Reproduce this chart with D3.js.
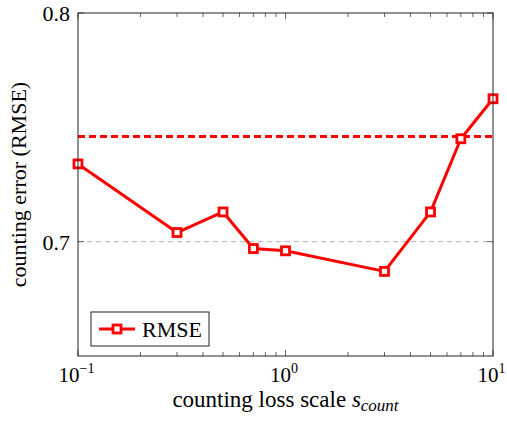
<!DOCTYPE html>
<html>
<head>
<meta charset="utf-8">
<script src="https://cdn.jsdelivr.net/npm/d3@7"></script>
<style>
  body { margin: 0; background: #fff; }
  text { font-family: "Liberation Serif", "DejaVu Serif", serif; fill: #000; }
</style>
</head>
<body>
<div id="viz"></div>
<script>

//data
let scales = [0.1, 0.3, 0.5, 0.7, 1, 3, 5, 7, 10]
let rmse = [0.734, 0.704, 0.713, 0.697, 0.696, 0.687, 0.713, 0.745, 0.7625]
let baseline = 0.746
let yTicks = [0.7, 0.8]
let xTicks = [0.1, 1, 10]
let xTickExp = ['\u22121', '0', '1']

let width = 507, height = 423
let margin = {top: 13, right: 14, bottom: 67, left: 78}

let svg = d3.select('#viz')
			.append('svg')
			.attr('width', width)
			.attr('height', height)

let x = d3.scaleLog()
			.domain([0.1, 10])
			.range([margin.left, width - margin.right])

let y = d3.scaleLinear()
			.domain([0.65, 0.8])
			.range([height - margin.bottom, margin.top])

//minor log ticks 2..9 per decade
let minorTicks = x.ticks().filter(t => !xTicks.includes(t))

//grid line at 0.7
svg.append('line')
	.attr('x1', x.range()[0])
	.attr('x2', x.range()[1])
	.attr('y1', y(0.7))
	.attr('y2', y(0.7))
	.attr('stroke', '#b3b3b3')
	.attr('stroke-width', 1)
	.attr('stroke-dasharray', '5,4')

//ticks inside the frame, bottom and top
let tickGroup = svg.append('g')
let yBottom = y.range()[0], yTop = y.range()[1]

tickGroup.selectAll('.xmajor')
	.data(xTicks)
	.enter()
	.append('path')
	.attr('d', d => `M${x(d)},${yBottom}v-6M${x(d)},${yTop}v6`)

tickGroup.selectAll('.xminor')
	.data(minorTicks)
	.enter()
	.append('path')
	.attr('d', d => `M${x(d)},${yBottom}v-4M${x(d)},${yTop}v4`)

tickGroup.selectAll('.ytick')
	.data(yTicks)
	.enter()
	.append('path')
	.attr('d', d => `M${x.range()[0]},${y(d)}h6M${x.range()[1]},${y(d)}h-6`)

tickGroup.selectAll('path')
	.attr('stroke', '#555')
	.attr('stroke-width', 0.9)
	.attr('fill', 'none')

//tick labels
svg.selectAll('.ylabel')
	.data(yTicks)
	.enter()
	.append('text')
	.attr('x', x.range()[0] - 8)
	.attr('y', d => y(d) + 8)
	.attr('text-anchor', 'end')
	.style('font-size', '22px')
	.text(d => d3.format('.1f')(d))

let xl = svg.selectAll('.xlabel')
	.data(xTicks)
	.enter()
	.append('text')
	.attr('x', d => x(d) - 1.5)
	.attr('y', yBottom + 26)
	.attr('text-anchor', 'middle')
	.style('font-size', '21px')

xl.append('tspan').text('10')
xl.append('tspan')
	.attr('dy', -9)
	.style('font-size', '14px')
	.text((d, i) => xTickExp[i])

//axis titles
let xTitle = svg.append('text')
	.attr('x', (x.range()[0] + x.range()[1]) / 2)
	.attr('y', 407)
	.attr('text-anchor', 'middle')
	.style('font-size', '23px')

xTitle.append('tspan').text('counting loss scale ')
xTitle.append('tspan').style('font-style', 'italic').text('s')
xTitle.append('tspan')
	.attr('dy', 4)
	.style('font-style', 'italic')
	.style('font-size', '17px')
	.text('count')

svg.append('text')
	.attr('transform', `translate(26, ${(yBottom + yTop) / 2}) rotate(-90)`)
	.attr('text-anchor', 'middle')
	.style('font-size', '22px')
	.text('counting error (RMSE)')

//baseline dashed
svg.append('line')
	.attr('x1', x.range()[0])
	.attr('x2', x.range()[1])
	.attr('y1', y(baseline))
	.attr('y2', y(baseline))
	.attr('stroke', '#ff0000')
	.attr('stroke-width', 3.2)
	.attr('stroke-dasharray', '7,4')

//series line
let line = d3.line()
	.x((d, i) => x(scales[i]))
	.y(d => y(d))

svg.append('path')
	.datum(rmse)
	.attr('d', line)
	.attr('fill', 'none')
	.attr('stroke', '#ff0000')
	.attr('stroke-width', 3)
	.attr('stroke-linejoin', 'round')

svg.selectAll('.mark')
	.data(rmse)
	.enter()
	.append('rect')
	.attr('x', (d, i) => x(scales[i]) - 4)
	.attr('y', d => y(d) - 4)
	.attr('width', 8)
	.attr('height', 8)
	.attr('fill', '#fff')
	.attr('stroke', '#ff0000')
	.attr('stroke-width', 2.8)

//frame
svg.append('rect')
	.attr('x', x.range()[0])
	.attr('y', yTop)
	.attr('width', x.range()[1] - x.range()[0])
	.attr('height', yBottom - yTop)
	.attr('fill', 'none')
	.attr('stroke', '#222')
	.attr('stroke-width', 1)

//legend
let legend = svg.append('g')
	.attr('transform', 'translate(91, 312)')

legend.append('rect')
	.attr('width', 118)
	.attr('height', 34)
	.attr('fill', '#fff')
	.attr('stroke', '#222')
	.attr('stroke-width', 1)

legend.append('line')
	.attr('x1', 8)
	.attr('x2', 44)
	.attr('y1', 17)
	.attr('y2', 17)
	.attr('stroke', '#ff0000')
	.attr('stroke-width', 3)

legend.append('rect')
	.attr('x', 22)
	.attr('y', 13)
	.attr('width', 8)
	.attr('height', 8)
	.attr('fill', '#fff')
	.attr('stroke', '#ff0000')
	.attr('stroke-width', 2.8)

legend.append('text')
	.attr('x', 51)
	.attr('y', 25)
	.style('font-size', '22px')
	.text('RMSE')

</script>
</body>
</html>
